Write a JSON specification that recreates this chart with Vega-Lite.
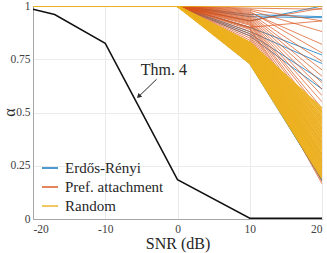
{
"$schema": "https://vega.github.io/schema/vega-lite/v6.json",
"autosize": "none",
"width": 289,
"height": 213,
"padding": {"left": 33, "top": 6, "right": 5, "bottom": 34},
"background": "white",
"config": {
  "view": {"stroke": "#a6a6a6", "strokeWidth": 1},
  "font": "Liberation Serif, DejaVu Serif, serif",
  "axis": {"grid": true, "gridColor": "#ebebeb", "domainColor": "#a6a6a6", "ticks": false, "labelFont": "Liberation Serif, DejaVu Serif, serif", "labelFontSize": 11.5, "labelColor": "#404040", "titleFont": "Liberation Serif, DejaVu Serif, serif", "titleFontWeight": "normal", "titleColor": "#262626", "titleFontSize": 16},
  "legend": {"labelFont": "Liberation Serif, DejaVu Serif, serif", "labelFontSize": 15, "labelColor": "#262626"}
},
"datasets": {
"lines": [
{"g":"Random","i":"R0","x":-20,"a":1},{"g":"Random","i":"R0","x":0,"a":1},{"g":"Random","i":"R0","x":10,"a":1},{"g":"Random","i":"R0","x":20,"a":1},
{"g":"Random","i":"R1","x":-20,"a":1},{"g":"Random","i":"R1","x":0,"a":1},{"g":"Random","i":"R1","x":10,"a":0.83},{"g":"Random","i":"R1","x":20,"a":0.52},
{"g":"Random","i":"R2","x":-20,"a":1},{"g":"Random","i":"R2","x":0,"a":1},{"g":"Random","i":"R2","x":10,"a":0.827},{"g":"Random","i":"R2","x":20,"a":0.51},
{"g":"Random","i":"R3","x":-20,"a":1},{"g":"Random","i":"R3","x":0,"a":1},{"g":"Random","i":"R3","x":10,"a":0.824},{"g":"Random","i":"R3","x":20,"a":0.5},
{"g":"Random","i":"R4","x":-20,"a":1},{"g":"Random","i":"R4","x":0,"a":1},{"g":"Random","i":"R4","x":10,"a":0.821},{"g":"Random","i":"R4","x":20,"a":0.49},
{"g":"Random","i":"R5","x":-20,"a":1},{"g":"Random","i":"R5","x":0,"a":1},{"g":"Random","i":"R5","x":10,"a":0.818},{"g":"Random","i":"R5","x":20,"a":0.48},
{"g":"Random","i":"R6","x":-20,"a":1},{"g":"Random","i":"R6","x":0,"a":1},{"g":"Random","i":"R6","x":10,"a":0.815},{"g":"Random","i":"R6","x":20,"a":0.47},
{"g":"Random","i":"R7","x":-20,"a":1},{"g":"Random","i":"R7","x":0,"a":1},{"g":"Random","i":"R7","x":10,"a":0.812},{"g":"Random","i":"R7","x":20,"a":0.46},
{"g":"Random","i":"R8","x":-20,"a":1},{"g":"Random","i":"R8","x":0,"a":1},{"g":"Random","i":"R8","x":10,"a":0.809},{"g":"Random","i":"R8","x":20,"a":0.45},
{"g":"Random","i":"R9","x":-20,"a":1},{"g":"Random","i":"R9","x":0,"a":1},{"g":"Random","i":"R9","x":10,"a":0.806},{"g":"Random","i":"R9","x":20,"a":0.44},
{"g":"Random","i":"R10","x":-20,"a":1},{"g":"Random","i":"R10","x":0,"a":1},{"g":"Random","i":"R10","x":10,"a":0.803},{"g":"Random","i":"R10","x":20,"a":0.43},
{"g":"Random","i":"R11","x":-20,"a":1},{"g":"Random","i":"R11","x":0,"a":1},{"g":"Random","i":"R11","x":10,"a":0.8},{"g":"Random","i":"R11","x":20,"a":0.42},
{"g":"Random","i":"R12","x":-20,"a":1},{"g":"Random","i":"R12","x":0,"a":1},{"g":"Random","i":"R12","x":10,"a":0.797},{"g":"Random","i":"R12","x":20,"a":0.41},
{"g":"Random","i":"R13","x":-20,"a":1},{"g":"Random","i":"R13","x":0,"a":1},{"g":"Random","i":"R13","x":10,"a":0.794},{"g":"Random","i":"R13","x":20,"a":0.4},
{"g":"Random","i":"R14","x":-20,"a":1},{"g":"Random","i":"R14","x":0,"a":1},{"g":"Random","i":"R14","x":10,"a":0.791},{"g":"Random","i":"R14","x":20,"a":0.39},
{"g":"Random","i":"R15","x":-20,"a":1},{"g":"Random","i":"R15","x":0,"a":1},{"g":"Random","i":"R15","x":10,"a":0.788},{"g":"Random","i":"R15","x":20,"a":0.38},
{"g":"Random","i":"R16","x":-20,"a":1},{"g":"Random","i":"R16","x":0,"a":1},{"g":"Random","i":"R16","x":10,"a":0.785},{"g":"Random","i":"R16","x":20,"a":0.37},
{"g":"Random","i":"R17","x":-20,"a":1},{"g":"Random","i":"R17","x":0,"a":1},{"g":"Random","i":"R17","x":10,"a":0.782},{"g":"Random","i":"R17","x":20,"a":0.36},
{"g":"Random","i":"R18","x":-20,"a":1},{"g":"Random","i":"R18","x":0,"a":1},{"g":"Random","i":"R18","x":10,"a":0.779},{"g":"Random","i":"R18","x":20,"a":0.35},
{"g":"Random","i":"R19","x":-20,"a":1},{"g":"Random","i":"R19","x":0,"a":1},{"g":"Random","i":"R19","x":10,"a":0.776},{"g":"Random","i":"R19","x":20,"a":0.34},
{"g":"Random","i":"R20","x":-20,"a":1},{"g":"Random","i":"R20","x":0,"a":1},{"g":"Random","i":"R20","x":10,"a":0.773},{"g":"Random","i":"R20","x":20,"a":0.33},
{"g":"Random","i":"R21","x":-20,"a":1},{"g":"Random","i":"R21","x":0,"a":1},{"g":"Random","i":"R21","x":10,"a":0.77},{"g":"Random","i":"R21","x":20,"a":0.32},
{"g":"Random","i":"R22","x":-20,"a":1},{"g":"Random","i":"R22","x":0,"a":1},{"g":"Random","i":"R22","x":10,"a":0.767},{"g":"Random","i":"R22","x":20,"a":0.31},
{"g":"Random","i":"R23","x":-20,"a":1},{"g":"Random","i":"R23","x":0,"a":1},{"g":"Random","i":"R23","x":10,"a":0.764},{"g":"Random","i":"R23","x":20,"a":0.3},
{"g":"Random","i":"R24","x":-20,"a":1},{"g":"Random","i":"R24","x":0,"a":1},{"g":"Random","i":"R24","x":10,"a":0.761},{"g":"Random","i":"R24","x":20,"a":0.29},
{"g":"Random","i":"R25","x":-20,"a":1},{"g":"Random","i":"R25","x":0,"a":1},{"g":"Random","i":"R25","x":10,"a":0.758},{"g":"Random","i":"R25","x":20,"a":0.28},
{"g":"Random","i":"R26","x":-20,"a":1},{"g":"Random","i":"R26","x":0,"a":1},{"g":"Random","i":"R26","x":10,"a":0.755},{"g":"Random","i":"R26","x":20,"a":0.27},
{"g":"Random","i":"R27","x":-20,"a":1},{"g":"Random","i":"R27","x":0,"a":1},{"g":"Random","i":"R27","x":10,"a":0.752},{"g":"Random","i":"R27","x":20,"a":0.26},
{"g":"Random","i":"R28","x":-20,"a":1},{"g":"Random","i":"R28","x":0,"a":1},{"g":"Random","i":"R28","x":10,"a":0.749},{"g":"Random","i":"R28","x":20,"a":0.25},
{"g":"Random","i":"R29","x":-20,"a":1},{"g":"Random","i":"R29","x":0,"a":1},{"g":"Random","i":"R29","x":10,"a":0.746},{"g":"Random","i":"R29","x":20,"a":0.24},
{"g":"Random","i":"R30","x":-20,"a":1},{"g":"Random","i":"R30","x":0,"a":1},{"g":"Random","i":"R30","x":10,"a":0.743},{"g":"Random","i":"R30","x":20,"a":0.23},
{"g":"Random","i":"R31","x":-20,"a":1},{"g":"Random","i":"R31","x":0,"a":1},{"g":"Random","i":"R31","x":10,"a":0.74},{"g":"Random","i":"R31","x":20,"a":0.22},
{"g":"Random","i":"R32","x":-20,"a":1},{"g":"Random","i":"R32","x":0,"a":1},{"g":"Random","i":"R32","x":10,"a":0.737},{"g":"Random","i":"R32","x":20,"a":0.21},
{"g":"Random","i":"R33","x":-20,"a":1},{"g":"Random","i":"R33","x":0,"a":1},{"g":"Random","i":"R33","x":10,"a":0.734},{"g":"Random","i":"R33","x":20,"a":0.2},
{"g":"Random","i":"R34","x":-20,"a":1},{"g":"Random","i":"R34","x":0,"a":1},{"g":"Random","i":"R34","x":10,"a":0.731},{"g":"Random","i":"R34","x":20,"a":0.19},
{"g":"Erdős-Rényi","i":"E0","x":-20,"a":1},{"g":"Erdős-Rényi","i":"E0","x":0,"a":1},{"g":"Erdős-Rényi","i":"E0","x":10,"a":0.93},{"g":"Erdős-Rényi","i":"E0","x":20,"a":1},
{"g":"Erdős-Rényi","i":"E1","x":-20,"a":1},{"g":"Erdős-Rényi","i":"E1","x":0,"a":1},{"g":"Erdős-Rényi","i":"E1","x":10,"a":0.95},{"g":"Erdős-Rényi","i":"E1","x":20,"a":0.945},
{"g":"Erdős-Rényi","i":"E2","x":-20,"a":1},{"g":"Erdős-Rényi","i":"E2","x":0,"a":1},{"g":"Erdős-Rényi","i":"E2","x":10,"a":0.96},{"g":"Erdős-Rényi","i":"E2","x":20,"a":0.95},
{"g":"Erdős-Rényi","i":"E3","x":-20,"a":1},{"g":"Erdős-Rényi","i":"E3","x":0,"a":1},{"g":"Erdős-Rényi","i":"E3","x":10,"a":0.9},{"g":"Erdős-Rényi","i":"E3","x":20,"a":0.77},
{"g":"Erdős-Rényi","i":"E4","x":-20,"a":1},{"g":"Erdős-Rényi","i":"E4","x":0,"a":1},{"g":"Erdős-Rényi","i":"E4","x":10,"a":0.88},{"g":"Erdős-Rényi","i":"E4","x":20,"a":0.73},
{"g":"Erdős-Rényi","i":"E5","x":-20,"a":1},{"g":"Erdős-Rényi","i":"E5","x":0,"a":1},{"g":"Erdős-Rényi","i":"E5","x":10,"a":0.87},{"g":"Erdős-Rényi","i":"E5","x":20,"a":0.65},
{"g":"Erdős-Rényi","i":"E6","x":-20,"a":1},{"g":"Erdős-Rényi","i":"E6","x":0,"a":1},{"g":"Erdős-Rényi","i":"E6","x":10,"a":0.86},{"g":"Erdős-Rényi","i":"E6","x":20,"a":0.61},
{"g":"Erdős-Rényi","i":"E7","x":-20,"a":1},{"g":"Erdős-Rényi","i":"E7","x":0,"a":1},{"g":"Erdős-Rényi","i":"E7","x":10,"a":0.8},{"g":"Erdős-Rényi","i":"E7","x":20,"a":0.36},
{"g":"Erdős-Rényi","i":"E8","x":-20,"a":1},{"g":"Erdős-Rényi","i":"E8","x":0,"a":1},{"g":"Erdős-Rényi","i":"E8","x":10,"a":0.78},{"g":"Erdős-Rényi","i":"E8","x":20,"a":0.3},
{"g":"Erdős-Rényi","i":"E9","x":-20,"a":1},{"g":"Erdős-Rényi","i":"E9","x":0,"a":1},{"g":"Erdős-Rényi","i":"E9","x":10,"a":0.76},{"g":"Erdős-Rényi","i":"E9","x":20,"a":0.27},
{"g":"Erdős-Rényi","i":"E10","x":-20,"a":1},{"g":"Erdős-Rényi","i":"E10","x":0,"a":1},{"g":"Erdős-Rényi","i":"E10","x":10,"a":0.735},{"g":"Erdős-Rényi","i":"E10","x":20,"a":0.19},
{"g":"Erdős-Rényi","i":"E11","x":-20,"a":1},{"g":"Erdős-Rényi","i":"E11","x":0,"a":1},{"g":"Erdős-Rényi","i":"E11","x":10,"a":0.732},{"g":"Erdős-Rényi","i":"E11","x":20,"a":0.186},
{"g":"Erdős-Rényi","i":"E12","x":-20,"a":1},{"g":"Erdős-Rényi","i":"E12","x":0,"a":1},{"g":"Erdős-Rényi","i":"E12","x":10,"a":0.729},{"g":"Erdős-Rényi","i":"E12","x":20,"a":0.183},
{"g":"Erdős-Rényi","i":"E13","x":-20,"a":1},{"g":"Erdős-Rényi","i":"E13","x":0,"a":1},{"g":"Erdős-Rényi","i":"E13","x":10,"a":0.74},{"g":"Erdős-Rényi","i":"E13","x":20,"a":0.18},
{"g":"Pref. attachment","i":"P0","x":-20,"a":1},{"g":"Pref. attachment","i":"P0","x":0,"a":1},{"g":"Pref. attachment","i":"P0","x":10,"a":1},{"g":"Pref. attachment","i":"P0","x":20,"a":1},
{"g":"Pref. attachment","i":"P1","x":-20,"a":1},{"g":"Pref. attachment","i":"P1","x":0,"a":1},{"g":"Pref. attachment","i":"P1","x":10,"a":0.99},{"g":"Pref. attachment","i":"P1","x":20,"a":0.985},
{"g":"Pref. attachment","i":"P2","x":-20,"a":1},{"g":"Pref. attachment","i":"P2","x":0,"a":1},{"g":"Pref. attachment","i":"P2","x":10,"a":0.985},{"g":"Pref. attachment","i":"P2","x":20,"a":0.93},
{"g":"Pref. attachment","i":"P3","x":-20,"a":1},{"g":"Pref. attachment","i":"P3","x":0,"a":1},{"g":"Pref. attachment","i":"P3","x":10,"a":0.98},{"g":"Pref. attachment","i":"P3","x":20,"a":0.88},
{"g":"Pref. attachment","i":"P4","x":-20,"a":1},{"g":"Pref. attachment","i":"P4","x":0,"a":1},{"g":"Pref. attachment","i":"P4","x":10,"a":0.975},{"g":"Pref. attachment","i":"P4","x":20,"a":0.78},
{"g":"Pref. attachment","i":"P5","x":-20,"a":1},{"g":"Pref. attachment","i":"P5","x":0,"a":1},{"g":"Pref. attachment","i":"P5","x":10,"a":0.97},{"g":"Pref. attachment","i":"P5","x":20,"a":0.82},
{"g":"Pref. attachment","i":"P6","x":-20,"a":1},{"g":"Pref. attachment","i":"P6","x":0,"a":1},{"g":"Pref. attachment","i":"P6","x":10,"a":0.965},{"g":"Pref. attachment","i":"P6","x":20,"a":0.74},
{"g":"Pref. attachment","i":"P7","x":-20,"a":1},{"g":"Pref. attachment","i":"P7","x":0,"a":1},{"g":"Pref. attachment","i":"P7","x":10,"a":0.96},{"g":"Pref. attachment","i":"P7","x":20,"a":0.7},
{"g":"Pref. attachment","i":"P8","x":-20,"a":1},{"g":"Pref. attachment","i":"P8","x":0,"a":1},{"g":"Pref. attachment","i":"P8","x":10,"a":0.955},{"g":"Pref. attachment","i":"P8","x":20,"a":0.67},
{"g":"Pref. attachment","i":"P9","x":-20,"a":1},{"g":"Pref. attachment","i":"P9","x":0,"a":1},{"g":"Pref. attachment","i":"P9","x":10,"a":0.95},{"g":"Pref. attachment","i":"P9","x":20,"a":0.64},
{"g":"Pref. attachment","i":"P10","x":-20,"a":1},{"g":"Pref. attachment","i":"P10","x":0,"a":1},{"g":"Pref. attachment","i":"P10","x":10,"a":0.945},{"g":"Pref. attachment","i":"P10","x":20,"a":0.61},
{"g":"Pref. attachment","i":"P11","x":-20,"a":1},{"g":"Pref. attachment","i":"P11","x":0,"a":1},{"g":"Pref. attachment","i":"P11","x":10,"a":0.94},{"g":"Pref. attachment","i":"P11","x":20,"a":0.58},
{"g":"Pref. attachment","i":"P12","x":-20,"a":1},{"g":"Pref. attachment","i":"P12","x":0,"a":1},{"g":"Pref. attachment","i":"P12","x":10,"a":0.935},{"g":"Pref. attachment","i":"P12","x":20,"a":0.55},
{"g":"Pref. attachment","i":"P13","x":-20,"a":1},{"g":"Pref. attachment","i":"P13","x":0,"a":1},{"g":"Pref. attachment","i":"P13","x":10,"a":0.93},{"g":"Pref. attachment","i":"P13","x":20,"a":0.52},
{"g":"Pref. attachment","i":"P14","x":-20,"a":1},{"g":"Pref. attachment","i":"P14","x":0,"a":1},{"g":"Pref. attachment","i":"P14","x":10,"a":0.925},{"g":"Pref. attachment","i":"P14","x":20,"a":0.5},
{"g":"Pref. attachment","i":"P15","x":-20,"a":1},{"g":"Pref. attachment","i":"P15","x":0,"a":1},{"g":"Pref. attachment","i":"P15","x":10,"a":0.92},{"g":"Pref. attachment","i":"P15","x":20,"a":0.47},
{"g":"Pref. attachment","i":"P16","x":-20,"a":1},{"g":"Pref. attachment","i":"P16","x":0,"a":1},{"g":"Pref. attachment","i":"P16","x":10,"a":0.915},{"g":"Pref. attachment","i":"P16","x":20,"a":0.45},
{"g":"Pref. attachment","i":"P17","x":-20,"a":1},{"g":"Pref. attachment","i":"P17","x":0,"a":1},{"g":"Pref. attachment","i":"P17","x":10,"a":0.91},{"g":"Pref. attachment","i":"P17","x":20,"a":0.42},
{"g":"Pref. attachment","i":"P18","x":-20,"a":1},{"g":"Pref. attachment","i":"P18","x":0,"a":1},{"g":"Pref. attachment","i":"P18","x":10,"a":0.9},{"g":"Pref. attachment","i":"P18","x":20,"a":0.4},
{"g":"Pref. attachment","i":"P19","x":-20,"a":1},{"g":"Pref. attachment","i":"P19","x":0,"a":1},{"g":"Pref. attachment","i":"P19","x":10,"a":0.895},{"g":"Pref. attachment","i":"P19","x":20,"a":0.38},
{"g":"Pref. attachment","i":"P20","x":-20,"a":1},{"g":"Pref. attachment","i":"P20","x":0,"a":1},{"g":"Pref. attachment","i":"P20","x":10,"a":0.89},{"g":"Pref. attachment","i":"P20","x":20,"a":0.35},
{"g":"Pref. attachment","i":"P21","x":-20,"a":1},{"g":"Pref. attachment","i":"P21","x":0,"a":1},{"g":"Pref. attachment","i":"P21","x":10,"a":0.88},{"g":"Pref. attachment","i":"P21","x":20,"a":0.33},
{"g":"Pref. attachment","i":"P22","x":-20,"a":1},{"g":"Pref. attachment","i":"P22","x":0,"a":1},{"g":"Pref. attachment","i":"P22","x":10,"a":0.87},{"g":"Pref. attachment","i":"P22","x":20,"a":0.3},
{"g":"Pref. attachment","i":"P23","x":-20,"a":1},{"g":"Pref. attachment","i":"P23","x":0,"a":1},{"g":"Pref. attachment","i":"P23","x":10,"a":0.86},{"g":"Pref. attachment","i":"P23","x":20,"a":0.28},
{"g":"Pref. attachment","i":"P24","x":-20,"a":1},{"g":"Pref. attachment","i":"P24","x":0,"a":1},{"g":"Pref. attachment","i":"P24","x":10,"a":0.85},{"g":"Pref. attachment","i":"P24","x":20,"a":0.26},
{"g":"Pref. attachment","i":"P25","x":-20,"a":1},{"g":"Pref. attachment","i":"P25","x":0,"a":1},{"g":"Pref. attachment","i":"P25","x":10,"a":0.84},{"g":"Pref. attachment","i":"P25","x":20,"a":0.24},
{"g":"Pref. attachment","i":"P26","x":-20,"a":1},{"g":"Pref. attachment","i":"P26","x":0,"a":1},{"g":"Pref. attachment","i":"P26","x":10,"a":0.83},{"g":"Pref. attachment","i":"P26","x":20,"a":0.22},
{"g":"Pref. attachment","i":"P27","x":-20,"a":1},{"g":"Pref. attachment","i":"P27","x":0,"a":1},{"g":"Pref. attachment","i":"P27","x":10,"a":0.82},{"g":"Pref. attachment","i":"P27","x":20,"a":0.2},
{"g":"Pref. attachment","i":"P28","x":-20,"a":1},{"g":"Pref. attachment","i":"P28","x":0,"a":1},{"g":"Pref. attachment","i":"P28","x":10,"a":0.8},{"g":"Pref. attachment","i":"P28","x":20,"a":0.175},
{"g":"Pref. attachment","i":"P29","x":-20,"a":1},{"g":"Pref. attachment","i":"P29","x":0,"a":1},{"g":"Pref. attachment","i":"P29","x":10,"a":0.78},{"g":"Pref. attachment","i":"P29","x":20,"a":0.165},
{"g":"Pref. attachment","i":"P30","x":-20,"a":1},{"g":"Pref. attachment","i":"P30","x":0,"a":1},{"g":"Pref. attachment","i":"P30","x":10,"a":0.93},{"g":"Pref. attachment","i":"P30","x":20,"a":0.99},
{"g":"Pref. attachment","i":"P31","x":-20,"a":1},{"g":"Pref. attachment","i":"P31","x":0,"a":1},{"g":"Pref. attachment","i":"P31","x":10,"a":0.9},{"g":"Pref. attachment","i":"P31","x":20,"a":0.93}
],
"theory": [
{"x":-20,"a":0.985},{"x":-17,"a":0.96},{"x":-10,"a":0.825},{"x":0,"a":0.185},{"x":10,"a":0.004},{"x":20,"a":0.004}
]
},
"data": {"name": "lines"},
"encoding": {
  "x": {"field": "x", "type": "quantitative", "scale": {"domain": [-20, 20], "nice": false}, "axis": {"values": [-20, -10, 0, 10, 20], "labelExpr": "'' + datum.value", "title": "SNR (dB)", "labelPadding": 4, "titlePadding": 1}},
  "y": {"field": "a", "type": "quantitative", "scale": {"domain": [0, 1], "nice": false}, "axis": {"values": [0, 0.25, 0.5, 0.75, 1], "labelExpr": "'' + datum.value", "title": "α", "labelPadding": 3, "titleX": -24, "titleY": 106, "titleAngle": -90, "titleBaseline": "middle", "titleAlign": "center"}}
},
"layer": [
  {"transform": [{"filter": "datum.g == 'Erdős-Rényi'"}], "mark": {"type": "line", "strokeWidth": 1, "opacity": 0.75, "clip": true},
   "encoding": {"detail": {"field": "i"}, "color": {"field": "g", "type": "nominal", "scale": {"domain": ["Erdős-Rényi", "Pref. attachment", "Random"], "range": ["#0072BD", "#D95319", "#EDB120"]},
     "legend": {"title": null, "orient": "none", "legendX": 4, "legendY": 149, "symbolType": "stroke", "symbolSize": 256, "symbolStrokeWidth": 2, "rowPadding": 2, "padding": 4, "symbolOpacity": 1, "labelOffset": 6}}}},
  {"transform": [{"filter": "datum.g == 'Pref. attachment'"}], "mark": {"type": "line", "strokeWidth": 1, "opacity": 0.7, "clip": true},
   "encoding": {"detail": {"field": "i"}, "color": {"field": "g", "type": "nominal"}}},
  {"transform": [{"filter": "datum.g == 'Random'"}], "mark": {"type": "line", "strokeWidth": 1.6, "opacity": 0.95, "clip": true},
   "encoding": {"detail": {"field": "i"}, "color": {"field": "g", "type": "nominal"}}},
  {"data": {"name": "theory"}, "mark": {"type": "line", "strokeWidth": 1.5, "color": "#111111"}, "encoding": {}},
  {"data": {"values": [{"x": -1.9, "a": 0.70, "label": "Thm. 4"}]}, "mark": {"type": "text", "font": "Liberation Serif, DejaVu Serif, serif", "fontSize": 16, "color": "#262626"}, "encoding": {"text": {"field": "label"}}},
  {"data": {"values": [{"x": -2.9, "a": 0.656, "x2": -5.4, "a2": 0.574}]}, "mark": {"type": "rule", "strokeWidth": 1, "color": "#262626"}, "encoding": {"x2": {"field": "x2"}, "y2": {"field": "a2"}}},
  {"data": {"values": [{"x": -5.3, "a": 0.578}]}, "mark": {"type": "point", "shape": "triangle", "size": 28, "angle": 225, "filled": true, "color": "#262626", "opacity": 1}, "encoding": {}}
]
}
